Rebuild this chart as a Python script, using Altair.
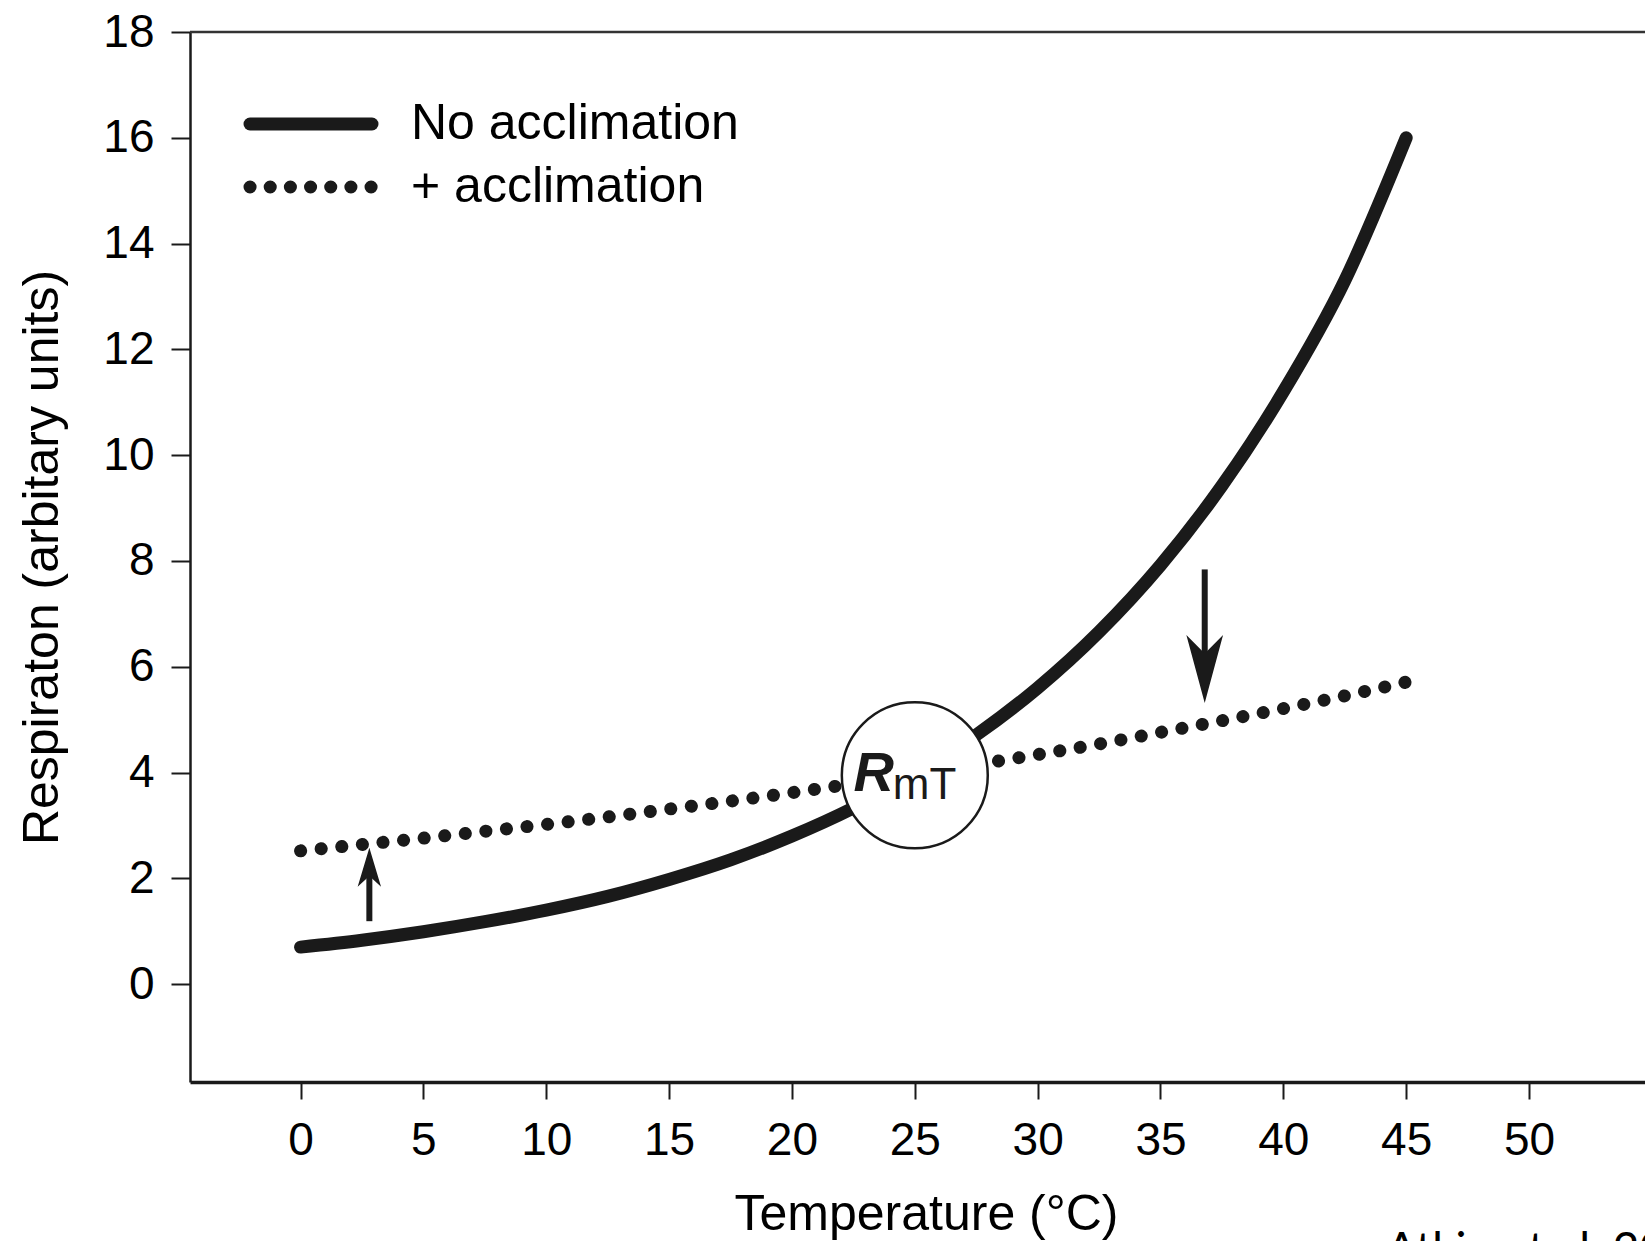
import altair as alt
import pandas as pd

# ---- data ----
temperature = [0, 2.5, 5, 7.5, 10, 12.5, 15, 17.5, 20, 22.5, 25, 27.5, 30, 32.5, 35, 37.5, 40, 42.5, 45]
no_acclimation = [0.70, 0.83, 0.99, 1.18, 1.40, 1.66, 1.98, 2.35, 2.80, 3.33, 3.96, 4.71, 5.60, 6.66, 7.92, 9.42, 11.2, 13.3, 16.0]
plus_acclimation = [2.52, 2.64, 2.76, 2.89, 3.02, 3.16, 3.31, 3.46, 3.62, 3.79, 3.97, 4.15, 4.34, 4.54, 4.76, 4.98, 5.21, 5.45, 5.71]
x_ticks = [0, 5, 10, 15, 20, 25, 30, 35, 40, 45, 50]
y_ticks = [0, 2, 4, 6, 8, 10, 12, 14, 16, 18]
legend_labels = ["No acclimation", "+ acclimation"]
rmt_T = [25.0]
rmt_R = [3.95]
arrow_T = [2.8, 36.8]
arrow_shaft_start = [1.19, 7.84]
arrow_head_center = [2.21, 5.96]
citation = "Atkin et al. 2005"

W, H = 1455, 1050
FONT = "Liberation Sans"
INK = "#1a1a1a"

xs = alt.Scale(domain=[-4.5, 54.72], nice=False, zero=False)
ys = alt.Scale(domain=[-1.85, 18.0], nice=False, zero=False)

df_no = pd.DataFrame({"T": temperature, "R": no_acclimation})
df_plus = pd.DataFrame({"T": temperature, "R": plus_acclimation})
df_rmt = pd.DataFrame({"T": rmt_T, "R": rmt_R})
df_arrow = pd.DataFrame({"T": arrow_T, "R0": arrow_shaft_start, "R1": arrow_head_center})
df_up = df_arrow.iloc[[0]]
df_down = df_arrow.iloc[[1]]

x_axis = alt.Axis(values=x_ticks, title="Temperature (°C)", grid=False,
                  domainColor=INK, domainWidth=3.5, tickColor=INK, tickWidth=2, tickSize=17,
                  labelFont=FONT, labelFontSize=46, labelColor="black", labelPadding=19,
                  titleFont=FONT, titleFontSize=50, titleFontWeight="normal", titleColor="black",
                  titleX=736, titleY=132, titleBaseline="middle", titleAlign="center")
y_axis = alt.Axis(values=y_ticks, title="Respiraton (arbitary units)", grid=False,
                  domainColor=INK, domainWidth=2.5, tickColor=INK, tickWidth=2, tickSize=19,
                  labelFont=FONT, labelFontSize=46, labelColor="black", labelPadding=17,
                  titleFont=FONT, titleFontSize=50, titleFontWeight="normal", titleColor="black",
                  titleX=-148, titleY=525, titleAngle=270, titleBaseline="middle", titleAlign="center")


def X(field="T"):
    return alt.X(f"{field}:Q", scale=xs, axis=x_axis, title="Temperature (°C)")


def Y(field="R"):
    return alt.Y(f"{field}:Q", scale=ys, axis=y_axis, title="Respiraton (arbitary units)")


dotted = alt.Chart(df_plus).mark_line(
    color=INK, strokeWidth=13, strokeCap="round", strokeDash=[0.1, 20.6], interpolate="monotone"
).encode(x=X(), y=Y())

solid = alt.Chart(df_no).mark_line(
    color=INK, strokeWidth=13, strokeCap="round", interpolate="monotone"
).encode(x=X(), y=Y())

circle = alt.Chart(df_rmt).mark_circle(
    size=21300, fill="white", stroke=INK, strokeWidth=2.5, opacity=1, fillOpacity=1
).encode(x=X(), y=Y())

r_text = alt.Chart(df_rmt).mark_text(
    text="R", font=FONT, fontSize=56, fontStyle="italic", fontWeight="bold",
    align="center", baseline="alphabetic", dx=-41, dy=16, color=INK
).encode(x=X(), y=Y())

mt_text = alt.Chart(df_rmt).mark_text(
    text="mT", font=FONT, fontSize=44, align="left", baseline="alphabetic", dx=-22, dy=24, color=INK
).encode(x=X(), y=Y())

shaft_up = alt.Chart(df_up).mark_rule(color=INK, strokeWidth=6).encode(
    x=X(), y=Y("R0"), y2="R1:Q")
shaft_down = alt.Chart(df_down).mark_rule(color=INK, strokeWidth=6).encode(
    x=X(), y=Y("R0"), y2="R1:Q")

head_up = alt.Chart(df_up).mark_point(
    shape="M0,-1L0.6,1L0,0.45L-0.6,1Z", size=1521, filled=True, color=INK, opacity=1
).encode(x=X(), y=Y("R1"))
head_down = alt.Chart(df_down).mark_point(
    shape="M0,1L0.54,-1L0,-0.45L-0.54,-1Z", size=4624, filled=True, color=INK, opacity=1
).encode(x=X(), y=Y("R1"))

top_border = alt.Chart(df_rmt).mark_rule(color="#333333", strokeWidth=2.5).encode(
    x=alt.value(0), x2=alt.value(W), y=alt.value(0))

leg_solid = alt.Chart(df_rmt).mark_rule(color=INK, strokeWidth=13, strokeCap="round").encode(
    x=alt.value(60), x2=alt.value(182), y=alt.value(92))
leg_dot = alt.Chart(df_rmt).mark_rule(color=INK, strokeWidth=13, strokeCap="round",
                                      strokeDash=[0.1, 20.07]).encode(
    x=alt.value(60), x2=alt.value(182), y=alt.value(155))
leg_t1 = alt.Chart(df_rmt).mark_text(text=legend_labels[0], font=FONT, fontSize=50, align="left",
                                     baseline="middle", color="black").encode(
    x=alt.value(221), y=alt.value(92))
leg_t2 = alt.Chart(df_rmt).mark_text(text=legend_labels[1], font=FONT, fontSize=50, align="left",
                                     baseline="middle", color="black").encode(
    x=alt.value(221), y=alt.value(155))

cite = alt.Chart(df_rmt).mark_text(text=citation, font="Lato", fontSize=46, align="left",
                                   baseline="top", color="black").encode(
    x=alt.value(1196), y=alt.value(1197))

chart = alt.layer(
    dotted, solid, circle, r_text, mt_text, shaft_up, shaft_down, head_up, head_down,
    top_border, leg_solid, leg_dot, leg_t1, leg_t2, cite
).properties(
    width=W, height=H, autosize="none",
    padding={"left": 190, "top": 32, "right": 0, "bottom": 159},
    background="white"
).configure_view(stroke=None)

chart.save("out.html", embed_options={"renderer": "svg", "actions": False})
